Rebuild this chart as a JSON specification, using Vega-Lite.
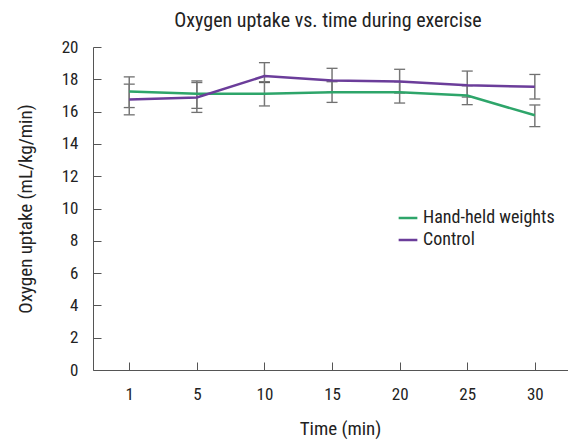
{
  "$schema": "https://vega.github.io/schema/vega-lite/v6.json",
  "autosize": {"type": "none"},
  "width": 494,
  "height": 323,
  "padding": {"left": 93, "top": 47, "right": 0, "bottom": 72},
  "background": "white",
  "config": {
    "font": "Roboto Condensed, Roboto, sans-serif",
    "view": {"stroke": null}
  },
  "title": {
    "text": "Oxygen uptake vs. time during exercise",
    "fontSize": 20,
    "fontWeight": "normal",
    "color": "#222",
    "anchor": "middle",
    "offset": 7,
    "dx": -12
  },
  "data": {
    "values": [
      {"time": "1", "group": "Hand-held weights", "mean": 17.25, "lo": 16.25, "hi": 18.15},
      {"time": "5", "group": "Hand-held weights", "mean": 17.1, "lo": 16.2, "hi": 17.9},
      {"time": "10", "group": "Hand-held weights", "mean": 17.1, "lo": 16.35, "hi": 17.85},
      {"time": "15", "group": "Hand-held weights", "mean": 17.2, "lo": 16.57, "hi": 17.85},
      {"time": "20", "group": "Hand-held weights", "mean": 17.2, "lo": 16.53, "hi": 17.85},
      {"time": "25", "group": "Hand-held weights", "mean": 16.99, "lo": 16.43, "hi": 17.6},
      {"time": "30", "group": "Hand-held weights", "mean": 15.77, "lo": 15.07, "hi": 16.41},
      {"time": "1", "group": "Control", "mean": 16.75, "lo": 15.8, "hi": 17.7},
      {"time": "5", "group": "Control", "mean": 16.88, "lo": 15.95, "hi": 17.8},
      {"time": "10", "group": "Control", "mean": 18.2, "lo": 17.8, "hi": 19.03},
      {"time": "15", "group": "Control", "mean": 17.93, "lo": 17.2, "hi": 18.68},
      {"time": "20", "group": "Control", "mean": 17.87, "lo": 17.15, "hi": 18.62},
      {"time": "25", "group": "Control", "mean": 17.63, "lo": 16.9, "hi": 18.51},
      {"time": "30", "group": "Control", "mean": 17.54, "lo": 16.78, "hi": 18.3}
    ]
  },
  "encoding": {
    "x": {
      "field": "time",
      "type": "ordinal",
      "sort": ["1", "5", "10", "15", "20", "25", "30"],
      "scale": {"type": "point", "padding": 0.654, "align": 0.41},
      "axis": {
        "title": "Time (min)",
        "labelAngle": 0,
        "labelFontSize": 17,
        "labelColor": "#222",
        "titleFontSize": 19,
        "titleFontWeight": "normal",
        "titleColor": "#222",
        "titlePadding": 17,
        "tickSize": -8,
        "labelPadding": 24,
        "domainColor": "#555",
        "tickColor": "#555",
        "grid": false
      }
    }
  },
  "resolve": {"axis": {"y": "independent"}},
  "layer": [
    {
      "mark": {
        "type": "errorbar",
        "ticks": {"color": "#333", "size": 11, "thickness": 1.3},
        "rule": {"color": "#777", "strokeWidth": 1.5}
      },
      "encoding": {
        "y": {
          "field": "lo",
          "type": "quantitative",
          "scale": {"domain": [0, 20]},
          "axis": null
        },
        "y2": {"field": "hi"}
      }
    },
    {
      "mark": {"type": "line", "strokeWidth": 2.5},
      "encoding": {
        "y": {
          "field": "mean",
          "type": "quantitative",
          "scale": {"domain": [0, 20]},
          "axis": {
            "title": "Oxygen uptake (mL/kg/min)",
            "values": [0, 2, 4, 6, 8, 10, 12, 14, 16, 18, 20],
            "labelOverlap": false,
            "labelFontSize": 17,
            "labelColor": "#222",
            "titleFontSize": 19,
            "titleFontWeight": "normal",
            "titleColor": "#222",
            "titlePadding": 26,
            "tickSize": -8,
            "labelPadding": 23,
            "domainColor": "#555",
            "tickColor": "#555",
            "grid": false
          }
        },
        "color": {
          "field": "group",
          "type": "nominal",
          "scale": {"domain": ["Hand-held weights", "Control"], "range": ["#2ea56a", "#6b3d9a"]},
          "legend": {
            "title": null,
            "orient": "none",
            "legendX": 304,
            "legendY": 160,
            "symbolType": "stroke",
            "symbolSize": 350,
            "symbolStrokeWidth": 2.5,
            "labelFontSize": 18,
            "labelColor": "#222",
            "rowPadding": 2
          }
        }
      }
    }
  ]
}
